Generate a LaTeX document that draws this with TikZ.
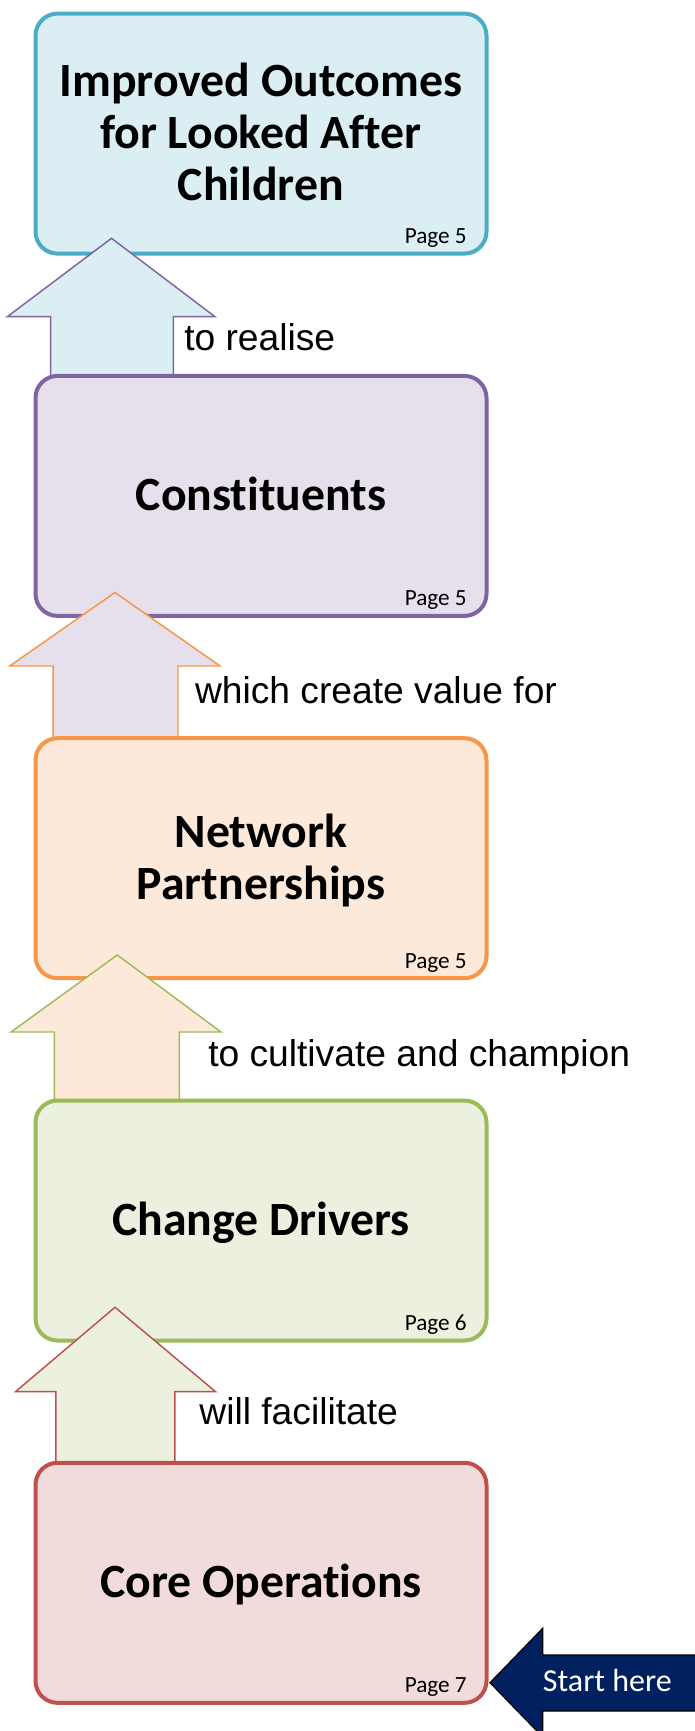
\documentclass[tikz,border=0pt]{standalone}
\usepackage{fontspec}
\setmainfont{Carlito}[Ligatures=NoCommon]
\newfontfamily\labelfont{Liberation Sans}
\definecolor{aquaL}{HTML}{4BACC6}\definecolor{aquaF}{HTML}{DAEEF3}
\definecolor{purpL}{HTML}{8064A2}\definecolor{purpF}{HTML}{E5E0EC}
\definecolor{orngL}{HTML}{F79646}\definecolor{orngF}{HTML}{FDE9D9}
\definecolor{grnL}{HTML}{9BBB59}\definecolor{grnF}{HTML}{EBF1DE}
\definecolor{redL}{HTML}{C0504D}\definecolor{redF}{HTML}{F2DCDB}
\definecolor{navy}{HTML}{002060}
\begin{document}
\begin{tikzpicture}[x=0.75pt, y={(0pt,-0.75pt)},
  stage/.style={draw, line width=3pt, rounded corners=16.5pt,
    minimum width=338.25pt, minimum height=180pt, inner sep=0pt},
  heading/.style={anchor=base, align=center, inner sep=0pt,
    font=\bfseries\fontsize{35.8pt}{39pt}\selectfont},
  pagelbl/.style={anchor=base east, inner sep=0pt,
    font=\fontsize{17.4pt}{20pt}\selectfont},
  steplbl/.style={anchor=base west, inner sep=0pt,
    font=\labelfont\fontsize{27.9pt}{32pt}\selectfont},
  uparrow/.style={line width=1.1pt, line join=miter}]
\useasboundingbox (0,0) rectangle (694,1731);

% outcome box (heading anchored on its last line)
\node[stage, draw=aquaL, fill=aquaF] (b1) at (261,133.6) {};
\node[heading] (t1) at (261,200.6) {Improved Outcomes\\for Looked After\\Children};
\node[pagelbl] (p1) at (467,243.6) {Page 5};

% arrow: constituents -> outcomes
\draw[uparrow, draw=purpL, fill=aquaF]
  (50.7,375) -- (50.7,316.7) -- (7.3,316.7) -- (111.5,238.3)
  -- (215,316.7) -- (173.3,316.7) -- (173.3,375);
\node[steplbl] (l1) at (184,350.5) {to realise};

% constituents
\node[stage, draw=purpL, fill=purpF] (b2) at (261,495.9) {};
\node[heading] (t2) at (261,510.9) {Constituents};
\node[pagelbl] (p2) at (467,605.9) {Page 5};

% arrow: partnerships -> constituents
\draw[uparrow, draw=orngL, fill=purpF]
  (53.1,737) -- (53.1,666) -- (9.7,666) -- (115,592.5)
  -- (220,666) -- (178,666) -- (178,737);
\node[steplbl] (l2) at (194.8,703.5) {which create value for};

% network partnerships
\node[stage, draw=orngL, fill=orngF] (b3) at (261,858.2) {};
\node[heading] (t3) at (261,899.2) {Network\\Partnerships};
\node[pagelbl] (p3) at (467,968.2) {Page 5};

% arrow: drivers -> partnerships
\draw[uparrow, draw=grnL, fill=orngF]
  (54.4,1099.5) -- (54.4,1032) -- (11,1032) -- (117.3,955)
  -- (221,1032) -- (179.3,1032) -- (179.3,1099.5);
\node[steplbl] (l3) at (208,1066) {to cultivate and champion};

% change drivers
\node[stage, draw=grnL, fill=grnF] (b4) at (261,1220.5) {};
\node[heading] (t4) at (261,1235.5) {Change Drivers};
\node[pagelbl] (p4) at (467,1330.5) {Page 6};

% arrow: operations -> drivers
\draw[uparrow, draw=redL, fill=grnF]
  (55.8,1462) -- (55.8,1391.7) -- (15.5,1391.7) -- (115,1307.3)
  -- (215.6,1391.7) -- (174.9,1391.7) -- (174.9,1462);
\node[steplbl] (l4) at (199.2,1424.5) {will facilitate};

% core operations
\node[stage, draw=redL, fill=redF] (b5) at (261,1582.8) {};
\node[heading] (t5) at (261,1597.8) {Core Operations};
\node[pagelbl] (p5) at (467,1692.8) {Page 7};

% entry pointer
\draw[line width=0.9pt, draw=black, fill=navy, line join=miter]
  (490,1682.7) -- (542.7,1628.3) -- (542.7,1655) -- (720,1655)
  -- (720,1711) -- (542.7,1711) -- (542.7,1737) -- cycle;
\node[anchor=base west, inner sep=0pt, text=white,
  font=\fontsize{24pt}{28pt}\selectfont] (s) at (542.7,1691.7) {Start here};
\end{tikzpicture}
\end{document}
